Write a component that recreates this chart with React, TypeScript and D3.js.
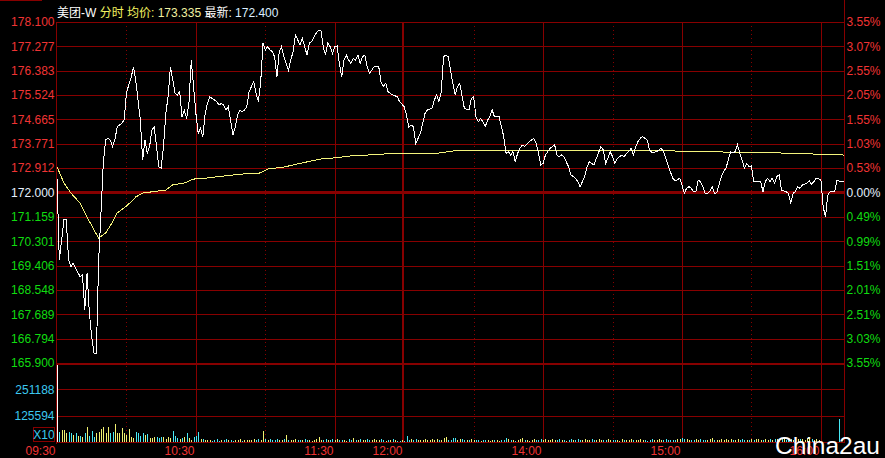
import React from "react";
import * as d3 from "d3";

// ---------- DATA ----------
const stockName = "美团-W";
const avgPriceText = "173.335";
const lastPriceText = "172.400";

const priceTickLabels = ["178.100","177.277","176.383","175.524","174.665","173.771","172.912","172.000","171.159","170.301","169.406","168.548","167.689","166.794","165.900"];
const pctTickLabels = ["3.55%","3.07%","2.55%","2.05%","1.55%","1.03%","0.53%","0.00%","0.49%","0.99%","1.51%","2.01%","2.51%","3.03%","3.55%"];
const volTickLabels = ["251188","125594"];
const volTickValues = [251188, 125594];
const volAxisMax = 376782;

// session minutes: 0 = 09:30, 150 = 12:00/13:00, 330 = 16:00, 340 = 16:10
const timeTickMinutes = [0, 60, 120, 150, 210, 270, 330];
const timeTickLabels = ["09:30","10:30","11:30","12:00","14:00","15:00","16:00"];
const halfHourMinutes = [30, 90, 180, 240, 300];
const solidHourMinutes = [60, 120, 210, 270, 330];

// [minute, price]
const minutePrices: [number, number][] = [
[0,172.51],[1,169.58],[2,170.30],[3,171.02],[4,171.04],[5,169.58],[6,169.35],[7,169.47],[8,169.29],[10,168.99],
[11,169.05],[12,167.80],[13,169.11],[14,167.68],[15,166.84],[16,166.25],[17,166.25],[18,169.58],[19,171.26],[20,173.04],
[21,173.88],[22,173.94],[23,173.88],[24,173.64],[25,173.88],[26,174.35],[28,174.48],[29,174.59],[30,175.55],[31,175.85],
[32,176.09],[33,176.50],[34,176.03],[35,175.31],[36,174.59],[37,173.16],[38,173.88],[39,173.40],[40,173.64],[41,174.24],
[42,174.35],[43,173.64],[44,172.92],[45,172.87],[46,173.64],[47,174.83],[48,175.43],[49,176.50],[50,176.03],[51,175.55],
[52,175.49],[53,175.61],[54,174.71],[55,174.95],[56,174.65],[57,175.19],[58,176.74],[59,175.79],[60,174.83],[61,174.12],
[62,174.30],[63,174.00],[64,174.83],[65,175.19],[66,175.43],[67,175.37],[68,175.31],[69,175.25],[70,175.13],[71,175.19],
[72,175.13],[73,174.95],[74,175.07],[75,174.59],[76,174.06],[77,174.35],[78,174.77],[79,174.95],[80,174.89],[81,174.95],
[82,175.07],[83,175.61],[84,175.79],[85,175.96],[86,175.55],[87,175.25],[88,175.96],[89,177.34],[90,177.10],[91,177.22],
[92,177.10],[93,177.04],[94,176.86],[95,176.14],[96,177.04],[97,177.22],[98,176.86],[100,176.38],[101,176.74],[102,177.04],
[103,177.64],[104,177.46],[105,177.28],[106,177.52],[107,177.22],[108,176.92],[109,177.34],[110,177.40],[111,177.57],[112,177.70],
[113,177.81],[114,177.81],[115,177.22],[116,176.92],[117,177.34],[118,177.22],[119,176.98],[120,177.22],[121,177.24],[122,176.62],
[123,176.14],[124,176.74],[125,176.92],[126,176.74],[127,176.62],[128,176.80],[129,176.74],[130,176.92],[131,176.62],[132,176.86],
[133,176.92],[134,176.50],[135,176.27],[136,176.38],[137,176.50],[139,176.50],[140,175.96],[141,175.79],[142,175.91],[143,175.61],
[145,175.49],[147,175.43],[148,175.25],[150,175.07],[151,174.77],[152,174.35],[153,174.42],[154,174.35],[155,173.76],[156,173.94],
[157,174.12],[159,174.83],[160,174.95],[162,175.01],[163,175.31],[164,175.49],[165,175.25],[166,175.61],[167,176.86],[168,176.92],
[169,176.86],[170,176.38],[171,175.91],[172,175.49],[173,175.79],[174,175.91],[175,175.43],[176,175.01],[178,174.95],[179,175.37],
[180,175.43],[181,174.71],[182,174.53],[183,174.65],[184,174.53],[185,174.35],[186,174.59],[187,174.71],[188,174.95],[189,174.71],
[191,174.71],[192,174.35],[193,174.00],[194,173.40],[195,173.46],[196,173.34],[197,173.46],[198,173.10],[199,173.40],[200,173.58],
[201,173.70],[202,173.64],[204,173.82],[205,173.88],[206,173.94],[207,173.76],[208,173.40],[209,172.98],[210,173.04],[211,173.34],
[212,173.46],[213,173.58],[214,173.64],[215,173.70],[216,173.34],[217,173.28],[218,173.34],[219,173.28],[221,172.92],[222,172.63],
[224,172.51],[225,172.39],[226,172.21],[228,172.57],[229,172.92],[230,173.10],[231,173.04],[232,172.98],[233,173.22],[235,173.64],
[236,173.52],[237,173.04],[238,173.22],[239,173.46],[240,173.28],[241,173.04],[242,173.22],[243,173.28],[244,173.34],[245,173.28],
[246,173.40],[247,173.46],[248,173.58],[249,173.34],[250,173.64],[251,173.82],[252,173.94],[253,174.00],[254,173.94],[255,173.88],
[256,173.52],[257,173.44],[258,173.44],[259,173.46],[260,173.52],[261,173.58],[262,173.46],[263,173.22],[264,172.98],[265,172.74],
[266,172.51],[267,172.42],[268,172.45],[269,172.51],[270,172.27],[271,171.97],[272,172.15],[273,172.21],[274,172.15],[275,172.03],
[276,172.03],[277,172.45],[278,172.39],[279,172.21],[280,171.97],[281,171.97],[282,172.03],[283,172.21],[284,171.97],[285,171.99],
[286,172.27],[287,172.57],[288,172.74],[289,172.87],[290,173.16],[291,173.46],[292,173.42],[293,173.46],[294,173.70],[295,173.40],
[296,173.16],[297,172.87],[298,173.04],[299,172.92],[300,172.95],[301,172.39],[302,172.39],[304,172.39],[305,172.03],[306,172.39],
[307,172.51],[308,172.39],[309,172.51],[310,172.33],[311,172.57],[312,172.63],[313,172.09],[315,172.03],[316,171.97],[317,171.61],
[318,171.97],[319,172.03],[320,172.21],[321,172.15],[322,172.27],[324,172.33],[325,172.42],[326,172.29],[327,172.39],[328,172.51],
[330,172.47],[331,171.49],[332,171.13],[333,171.91],[334,172.03],[336,172.03],[337,172.45],[338,172.40],[340,172.40]
];

// [minute, average price]
const minuteAvgPrices: [number, number][] = [
[0,172.92],[3,172.34],[6,171.98],[10,171.62],[13,171.12],[16,170.66],[18,170.37],[21,170.55],[24,170.94],[26,171.27],
[29,171.45],[32,171.66],[34,171.84],[37,171.98],[47,172.09],[50,172.27],[55,172.34],[59,172.48],[65,172.52],[72,172.59],
[80,172.66],[88,172.70],[91,172.84],[98,172.91],[106,173.06],[114,173.20],[119,173.23],[127,173.31],[134,173.34],[142,173.38],
[150,173.41],[165,173.41],[168,173.45],[174,173.52],[235,173.52],[271,173.48],[287,173.45],[315,173.41],[340,173.34]
];

// volume per minute, index = minute (0..329)
const minuteVolumes: number[] = [
980000,
49700,58000,58000,42000,49700,42000,33800,42000,29000,29000,
25600,42000,71000,29000,54600,25600,42000,49700,61300,71000,
44900,71000,42000,46900,86900,42000,42000,66200,
44900,35300,62800,25600,17900,48300,42000,29000,42000,33800,
37200,20800,17900,22700,25600,17900,22700,22700,14500,22700,
17900,54600,29000,17900,13000,17900,22700,42000,17900,9700,
22700,29000,48300,13000,
12100,9700,7200,9700,5800,7200,12100,4800,7200,9700,
14500,9700,7200,4800,7200,9700,12100,5800,8700,9700,
7200,9700,12100,7200,14500,9700,53100,14500,9700,12100,
9700,7200,12100,9700,7200,14500,33800,9700,7200,9700,
12100,9700,7200,9700,12100,7200,9700,5800,9700,12100,
21700,9700,7200,12100,9700,7200,14500,9700,12100,7200,
9700,8700,5800,12100,9700,16900,7200,9700,12100,7200,
9700,14500,9700,7200,12100,9700,7200,12100,9700,5800,
7200,9700,12100,7200,5800,4800,7200,5800,
29000,9700,14500,7200,12100,9700,7200,9700,12100,7200,
9700,12100,7200,14500,9700,7200,19300,24200,7200,9700,
16900,19300,7200,12100,14500,9700,7200,9700,14500,7200,
9700,7200,5800,7200,9700,7200,5800,8700,9700,7200,
4800,7200,9700,19300,12100,9700,7200,5800,9700,12100,
16900,9700,7200,5800,9700,12100,7200,9700,14500,7200,
12100,9700,7200,14500,9700,7200,12100,9700,7200,5800,
9700,12100,7200,9700,14500,7200,9700,12100,7200,9700,
12100,7200,9700,14500,9700,7200,9700,12100,7200,9700,
7200,9700,5800,12100,9700,7200,9700,12100,8700,7200,
9700,12100,7200,9700,5800,9700,12100,7200,9700,12100,
7200,9700,12100,7200,9700,7200,9700,12100,14500,16900,
14500,12100,9700,9700,7200,12100,9700,14500,9700,7200,
9700,12100,16900,9700,7200,9700,12100,9700,14500,9700,
12100,9700,7200,12100,9700,14500,9700,7200,9700,12100,
9700,12100,14500,9700,7200,12100,9700,14500,9700,12100,
14500,9700,12100,16900,9700,12100,14500,9700,12100,14500,
12100,14500,9700,16900,12100,14500,9700,12100,9700
];
const closingAuction: [number, number] = [338, 109600];

// ---------- STYLE ----------
const GRID = "#870000";
const RED = "#f03434";
const GREEN = "#10dc10";
const CYAN = "#3cc8f0";
const UPBAR = "#f0f070";
const DOWNBAR = "#48e8f4";
const FONT = "'Liberation Sans', Arial, 'Noto Sans CJK SC', sans-serif";

const L = 57, R = 844, TOP = 22, MID = 363, BOT = 442;

export default function App() {
  const x = d3.scaleLinear().domain([0, 340]).range([L, R]);
  const yP = d3.scaleLinear().domain([165.9, 178.1]).range([MID, TOP]);
  const yV = d3.scaleLinear().domain([0, volAxisMax]).range([BOT, MID]);
  const step = (178.1 - 165.9) / (priceTickLabels.length - 1);
  const gridY = priceTickLabels.map((_, i) => yP(178.1 - i * step));
  const crisp = (v: number) => Math.round(v) + 0.5;

  const line = d3.line<[number, number]>().x(d => x(d[0])).y(d => yP(d[1]));

  const priceMap = new Map<number, number>(minutePrices);
  const lastPriceAt = (m: number) => {
    let p = minutePrices[0][1];
    for (const [mm, pp] of minutePrices) { if (mm <= m) p = pp; else break; }
    return p;
  };
  const bars = minuteVolumes.map((v, m) => {
    let color = "#ffffff";
    if (m > 0) {
      const cur = priceMap.has(m) ? priceMap.get(m)! : lastPriceAt(m);
      const prev = lastPriceAt(m - 1);
      color = cur >= prev ? UPBAR : DOWNBAR;
    }
    return { m, v, color };
  });
  bars.push({ m: closingAuction[0], v: closingAuction[1], color: DOWNBAR });

  const noon = Math.round(x(150)) - 1;

  return (
    <svg width={885} height={458} style={{ position: "absolute", left: 0, top: 0, display: "block" }}
      fontFamily={FONT}>
      <rect x={0} y={0} width={885} height={458} fill="#000" />
      <path d="M0,0.5H42" stroke={GRID} strokeWidth={1} />

      {/* horizontal price grid */}
      {gridY.map((gy, i) => (
        <line key={"h" + i} x1={L} x2={R} y1={i === 7 ? gy : crisp(gy)} y2={i === 7 ? gy : crisp(gy)}
          stroke={GRID} strokeWidth={i === 7 ? 3 : 1} shapeRendering="crispEdges" />
      ))}
      {/* volume grid */}
      {volTickValues.map((v, i) => (
        <line key={"vg" + i} x1={L} x2={R} y1={crisp(yV(v))} y2={crisp(yV(v))} stroke={GRID} shapeRendering="crispEdges" />
      ))}
      <line x1={L} x2={R} y1={MID + 0.5} y2={MID + 0.5} stroke={GRID} strokeWidth={2} shapeRendering="crispEdges" />
      <line x1={L} x2={R} y1={BOT + 0.5} y2={BOT + 0.5} stroke={GRID} shapeRendering="crispEdges" />

      {/* vertical grid */}
      {halfHourMinutes.map(m => (
        <line key={"d" + m} x1={crisp(x(m))} x2={crisp(x(m))} y1={TOP} y2={BOT} stroke={GRID}
          strokeDasharray="1,3" shapeRendering="crispEdges" />
      ))}
      {solidHourMinutes.map(m => (
        <line key={"s" + m} x1={crisp(x(m))} x2={crisp(x(m))} y1={TOP} y2={BOT} stroke={GRID} shapeRendering="crispEdges" />
      ))}
      <line x1={noon} x2={noon} y1={TOP} y2={BOT} stroke={GRID} strokeWidth={2} shapeRendering="crispEdges" />
      <line x1={L - 0.5} x2={L - 0.5} y1={TOP} y2={BOT + 2} stroke={GRID} strokeWidth={1.5} shapeRendering="crispEdges" />
      <line x1={R + 0.5} x2={R + 0.5} y1={0} y2={BOT + 1} stroke={GRID} strokeWidth={1} shapeRendering="crispEdges" />

      {/* volume bars */}
      {bars.map(b => {
        const top = Math.max(yV(b.v), MID + 2);
        return <rect key={"b" + b.m} x={Math.round(x(b.m))} y={top} width={1} height={BOT - top}
          fill={b.color} shapeRendering="crispEdges" />;
      })}

      {/* avg line & price line */}
      <path d={line(minuteAvgPrices) || ""} fill="none" stroke="#f4f47c" strokeWidth={1} shapeRendering="crispEdges" />
      <path d={line(minutePrices) || ""} fill="none" stroke="#ffffff" strokeWidth={1} shapeRendering="crispEdges" />

      {/* left price labels */}
      {priceTickLabels.map((t, i) => (
        <text key={"pl" + i} x={54.5} y={gridY[i]} dy="0.36em" textAnchor="end" fontSize={12}
          fill={i < 7 ? RED : i === 7 ? "#e6f0ff" : GREEN}>{t}</text>
      ))}
      {/* right pct labels */}
      {pctTickLabels.map((t, i) => (
        <text key={"pr" + i} x={846.5} y={gridY[i]} dy="0.36em" textAnchor="start" fontSize={12}
          fill={i < 7 ? RED : i === 7 ? "#e6f0ff" : GREEN}>{t}</text>
      ))}
      {/* volume labels */}
      {volTickLabels.map((t, i) => (
        <text key={"vl" + i} x={54.5} y={yV(volTickValues[i])} dy="0.36em" textAnchor="end" fontSize={12} fill={CYAN}>{t}</text>
      ))}
      <rect x={33.5} y={427.5} width={21} height={14} fill="none" stroke={GRID} />
      <text x={44} y={434.5} dy="0.36em" textAnchor="middle" fontSize={12} fill={CYAN}>X10</text>

      {/* time labels */}
      {timeTickMinutes.map((m, i) => (
        <text key={"t" + i} x={Math.round(x(m)) - 1.5} y={455} textAnchor="end" fontSize={12} fill={RED}>{timeTickLabels[i]}</text>
      ))}

      {/* header */}
      <text x={57} y={17} fontSize={12}>
        <tspan fill="#ffffff">{stockName} </tspan>
        <tspan fill="#f4f460">分时 均价: </tspan>
        <tspan fill="#f0f0a0">{avgPriceText} </tspan>
        <tspan fill="#ffffff">最新: </tspan>
        <tspan fill="#dceeff">{lastPriceText}</tspan>
      </text>

      {/* watermark */}
      <text x={775} y={453.5} fontSize={24.5} fill="#ffffff">China2au</text>
    </svg>
  );
}
